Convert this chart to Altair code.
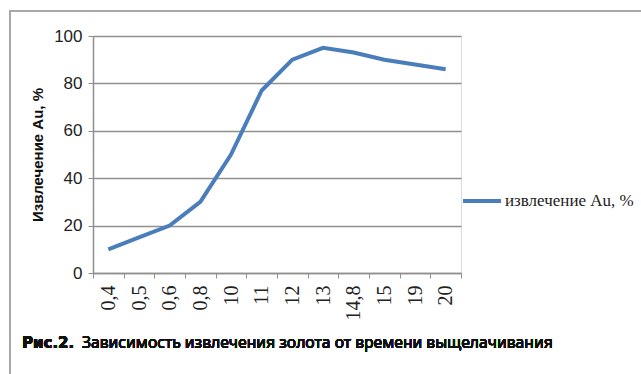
import altair as alt
import pandas as pd

# Leaching time labels (categories) and gold recovery, %
times = ["0,4", "0,5", "0,6", "0,8", "10", "11", "12", "13", "14,8", "15", "19", "20"]
recovery = [10, 15, 20, 30, 50, 77, 90, 95, 93, 90, 88, 86]
series_name = "извлечение Au, %"

df = pd.DataFrame({"time": times, "value": recovery, "series": series_name})

W, H = 368, 237
GRAY = "#8f8f8f"
BLUE = "#4a7ebb"

line = alt.Chart(df).mark_line(strokeWidth=4, color=BLUE).encode(
    x=alt.X(
        "time:N",
        sort=times,
        scale=alt.Scale(type="band", paddingInner=0, paddingOuter=0),
        axis=alt.Axis(
            title=None,
            labelAngle=-90,
            labelAlign="right",
            labelBaseline="middle",
            labelFont="Liberation Serif",
            labelFontSize=20,
            labelColor="#222222",
            labelPadding=7,
            tickBand="extent",
            tickSize=5,
            tickColor=GRAY,
            domainColor=GRAY,
            domainWidth=1.5,
            grid=False,
        ),
    ),
    y=alt.Y(
        "value:Q",
        scale=alt.Scale(domain=[0, 100], nice=False),
        axis=alt.Axis(
            title="Извлечение Au, %",
            titleFont="Liberation Sans",
            titleFontSize=15,
            titleFontWeight="bold",
            titleColor="#111111",
            titlePadding=8,
            values=[0, 20, 40, 60, 80, 100],
            labelFont="Liberation Sans",
            labelFontSize=17,
            labelColor="#222222",
            labelPadding=6,
            tickSize=5,
            tickColor=GRAY,
            domainColor=GRAY,
            domainWidth=1.5,
            gridColor=GRAY,
            gridWidth=1.5,
        ),
    ),
    color=alt.Color(
        "series:N",
        scale=alt.Scale(range=[BLUE]),
        legend=alt.Legend(
            title=None,
            orient="none",
            legendX=368,
            legendY=144,
            symbolType="stroke",
            symbolSize=1444,
            symbolStrokeWidth=4,
            labelFont="Liberation Serif",
            labelFontSize=17,
            labelColor="#222222",
            labelOffset=2,
        ),
    ),
)

# outer frame around the figure
frame = alt.Chart(df).mark_rect(fill=None, stroke="#a8a8a8", strokeWidth=1.5).encode(
    x=alt.value(-83), x2=alt.value(700), y=alt.value(-25), y2=alt.value(420)
)

caption_bold = alt.Chart(df).mark_text(
    text="Рис.2.", align="left", baseline="middle", font="DejaVu Sans",
    fontSize=15, fontWeight="bold", color="#111111"
).encode(x=alt.value(-71), y=alt.value(307))

caption_rest = alt.Chart(df).mark_text(
    text="Зависимость извлечения золота от времени выщелачивания",
    align="left", baseline="middle", font="Noto Sans", fontSize=15.7, color="#111111"
).encode(x=alt.value(-11), y=alt.value(307))

chart = alt.layer(frame, line, caption_bold, caption_rest).properties(
    width=W,
    height=H,
    autosize=alt.AutoSizeParams(type="none"),
    padding={"left": 93, "top": 36, "right": 641 - 93 - W, "bottom": 374 - 36 - H},
).configure_view(stroke=None).configure(background="white")

chart.save("out.html", embed_options={"renderer": "svg", "actions": False})
